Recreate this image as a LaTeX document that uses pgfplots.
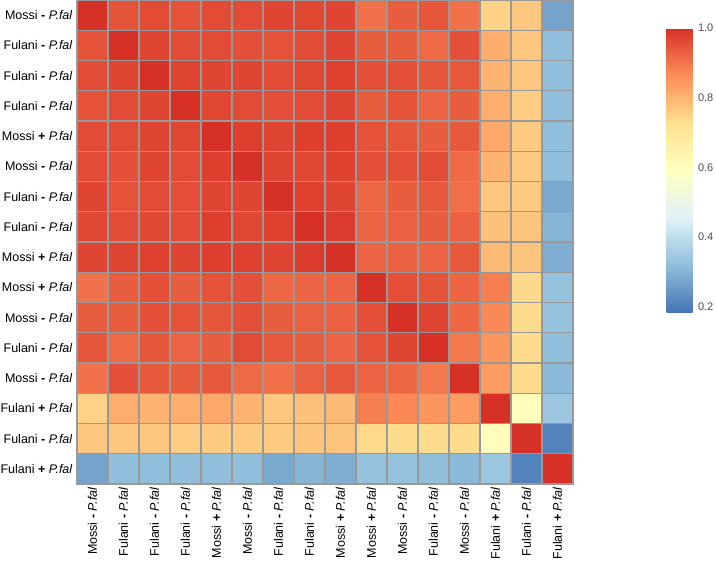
\documentclass[border=0pt]{standalone}
\usepackage{pgfplots}
\pgfplotsset{compat=1.18}
\usepackage{fontspec}
\setmainfont{Liberation Sans}
\usetikzlibrary{calc}
\pgfplotsset{colormap={rdylbu}{rgb255=(69,117,180) rgb255=(145,191,219) rgb255=(224,243,248) rgb255=(255,255,191) rgb255=(254,224,144) rgb255=(252,141,89) rgb255=(215,48,39)}}
\newcommand{\lm}{Mossi {\bfseries -} \textit{P.fal}}
\newcommand{\lp}{Mossi {\bfseries +} \textit{P.fal}}
\newcommand{\fm}{Fulani {\bfseries -} \textit{P.fal}}
\newcommand{\fp}{Fulani {\bfseries +} \textit{P.fal}}
\begin{document}
\begin{tikzpicture}
\useasboundingbox (0,0) rectangle (716bp,561bp);
\begin{axis}[
  at={(77bp,77bp)}, anchor=south west,
  width=496bp, height=484bp, scale only axis,
  xmin=-0.5, xmax=15.5, ymin=-0.5, ymax=15.5,
  y dir=reverse,
  axis on top,
  axis line style={draw=gray!80, line width=1.2bp},
  xtick={0,...,15}, ytick={0,...,15},
  xticklabels={\lm,\fm,\fm,\fm,\lp,\lm,\fm,\fm,\lp,\lp,\lm,\fm,\lm,\fp,\fm,\fp},
  yticklabels={\lm,\fm,\fm,\fm,\lp,\lm,\fm,\fm,\lp,\lp,\lm,\fm,\lm,\fp,\fm,\fp},
  major tick length=0pt, minor tick length=0pt,
  minor xtick={-0.5,0.5,...,15.5},
  minor ytick={-0.5,0.5,...,15.5},
  xminorgrids=true, yminorgrids=true,
  minor grid style={draw=gray!80, line width=1.2bp},
  ticklabel style={font=\fontsize{12.5bp}{14bp}\selectfont},
  xticklabel style={rotate=90, anchor=east, xshift=0bp},
  yticklabel style={anchor=east, xshift=-1bp},
  colormap name=rdylbu,
  point meta min=0.185, point meta max=1.0,
  colorbar,
  colorbar/width=26bp,
  colorbar style={
    at={($(parent axis.north east)+(85bp,-28bp)$)}, anchor=north west,
    width=26bp, height=284bp, scale only axis,
    axis line style={draw=none},
    major tick length=0pt,
    ytick={0.2,0.4,0.6,0.8,1.0},
    yticklabel style={font=\fontsize{11bp}{12bp}\selectfont, text=black!70, xshift=2bp,
      /pgf/number format/.cd, fixed, fixed zerofill, precision=1, assume math mode=true},
  },
]
\addplot[matrix plot*, mesh/cols=16, point meta=explicit] table[meta=c, row sep=\\] {
x y c\\
0 0 1.00\\ 1 0 0.95\\ 2 0 0.96\\ 3 0 0.95\\ 4 0 0.96\\ 5 0 0.96\\ 6 0 0.97\\ 7 0 0.965\\ 8 0 0.97\\ 9 0 0.905\\ 10 0 0.935\\ 11 0 0.945\\ 12 0 0.905\\ 13 0 0.75\\ 14 0 0.77\\ 15 0 0.27\\
0 1 0.95\\ 1 1 1.00\\ 2 1 0.97\\ 3 1 0.96\\ 4 1 0.96\\ 5 1 0.955\\ 6 1 0.95\\ 7 1 0.96\\ 8 1 0.97\\ 9 1 0.935\\ 10 1 0.935\\ 11 1 0.915\\ 12 1 0.955\\ 13 1 0.81\\ 14 1 0.77\\ 15 1 0.32\\
0 2 0.96\\ 1 2 0.97\\ 2 2 1.00\\ 3 2 0.97\\ 4 2 0.97\\ 5 2 0.97\\ 6 2 0.96\\ 7 2 0.965\\ 8 2 0.975\\ 9 2 0.955\\ 10 2 0.955\\ 11 2 0.945\\ 12 2 0.94\\ 13 2 0.80\\ 14 2 0.77\\ 15 2 0.32\\
0 3 0.95\\ 1 3 0.96\\ 2 3 0.97\\ 3 3 1.00\\ 4 3 0.965\\ 5 3 0.96\\ 6 3 0.955\\ 7 3 0.96\\ 8 3 0.97\\ 9 3 0.935\\ 10 3 0.95\\ 11 3 0.925\\ 12 3 0.935\\ 13 3 0.81\\ 14 3 0.76\\ 15 3 0.32\\
0 4 0.96\\ 1 4 0.96\\ 2 4 0.97\\ 3 4 0.965\\ 4 4 1.00\\ 5 4 0.98\\ 6 4 0.97\\ 7 4 0.98\\ 8 4 0.98\\ 9 4 0.95\\ 10 4 0.945\\ 11 4 0.935\\ 12 4 0.94\\ 13 4 0.82\\ 14 4 0.765\\ 15 4 0.32\\
0 5 0.96\\ 1 5 0.955\\ 2 5 0.97\\ 3 5 0.96\\ 4 5 0.98\\ 5 5 1.00\\ 6 5 0.97\\ 7 5 0.965\\ 8 5 0.975\\ 9 5 0.955\\ 10 5 0.955\\ 11 5 0.96\\ 12 5 0.915\\ 13 5 0.80\\ 14 5 0.765\\ 15 5 0.32\\
0 6 0.97\\ 1 6 0.95\\ 2 6 0.96\\ 3 6 0.955\\ 4 6 0.97\\ 5 6 0.97\\ 6 6 1.00\\ 7 6 0.975\\ 8 6 0.97\\ 9 6 0.92\\ 10 6 0.935\\ 11 6 0.94\\ 12 6 0.91\\ 13 6 0.77\\ 14 6 0.765\\ 15 6 0.28\\
0 7 0.965\\ 1 7 0.96\\ 2 7 0.965\\ 3 7 0.96\\ 4 7 0.98\\ 5 7 0.965\\ 6 7 0.975\\ 7 7 1.00\\ 8 7 0.985\\ 9 7 0.925\\ 10 7 0.93\\ 11 7 0.935\\ 12 7 0.93\\ 13 7 0.78\\ 14 7 0.775\\ 15 7 0.30\\
0 8 0.97\\ 1 8 0.97\\ 2 8 0.975\\ 3 8 0.97\\ 4 8 0.98\\ 5 8 0.975\\ 6 8 0.97\\ 7 8 0.985\\ 8 8 1.00\\ 9 8 0.925\\ 10 8 0.93\\ 11 8 0.925\\ 12 8 0.94\\ 13 8 0.79\\ 14 8 0.775\\ 15 8 0.29\\
0 9 0.905\\ 1 9 0.935\\ 2 9 0.955\\ 3 9 0.935\\ 4 9 0.95\\ 5 9 0.955\\ 6 9 0.92\\ 7 9 0.925\\ 8 9 0.925\\ 9 9 1.00\\ 10 9 0.955\\ 11 9 0.95\\ 12 9 0.925\\ 13 9 0.885\\ 14 9 0.74\\ 15 9 0.33\\
0 10 0.935\\ 1 10 0.935\\ 2 10 0.955\\ 3 10 0.95\\ 4 10 0.945\\ 5 10 0.955\\ 6 10 0.935\\ 7 10 0.93\\ 8 10 0.93\\ 9 10 0.955\\ 10 10 1.00\\ 11 10 0.97\\ 12 10 0.92\\ 13 10 0.87\\ 14 10 0.735\\ 15 10 0.33\\
0 11 0.945\\ 1 11 0.915\\ 2 11 0.945\\ 3 11 0.925\\ 4 11 0.935\\ 5 11 0.96\\ 6 11 0.94\\ 7 11 0.935\\ 8 11 0.925\\ 9 11 0.95\\ 10 11 0.97\\ 11 11 1.00\\ 12 11 0.895\\ 13 11 0.85\\ 14 11 0.735\\ 15 11 0.32\\
0 12 0.905\\ 1 12 0.955\\ 2 12 0.94\\ 3 12 0.935\\ 4 12 0.94\\ 5 12 0.915\\ 6 12 0.91\\ 7 12 0.93\\ 8 12 0.94\\ 9 12 0.925\\ 10 12 0.92\\ 11 12 0.895\\ 12 12 1.00\\ 13 12 0.84\\ 14 12 0.735\\ 15 12 0.31\\
0 13 0.75\\ 1 13 0.81\\ 2 13 0.80\\ 3 13 0.81\\ 4 13 0.82\\ 5 13 0.80\\ 6 13 0.77\\ 7 13 0.78\\ 8 13 0.79\\ 9 13 0.885\\ 10 13 0.87\\ 11 13 0.85\\ 12 13 0.84\\ 13 13 1.00\\ 14 13 0.60\\ 15 13 0.34\\
0 14 0.77\\ 1 14 0.77\\ 2 14 0.77\\ 3 14 0.76\\ 4 14 0.765\\ 5 14 0.765\\ 6 14 0.765\\ 7 14 0.775\\ 8 14 0.775\\ 9 14 0.74\\ 10 14 0.735\\ 11 14 0.735\\ 12 14 0.735\\ 13 14 0.60\\ 14 14 1.00\\ 15 14 0.21\\
0 15 0.27\\ 1 15 0.32\\ 2 15 0.32\\ 3 15 0.32\\ 4 15 0.32\\ 5 15 0.32\\ 6 15 0.28\\ 7 15 0.30\\ 8 15 0.29\\ 9 15 0.33\\ 10 15 0.33\\ 11 15 0.32\\ 12 15 0.31\\ 13 15 0.34\\ 14 15 0.21\\ 15 15 1.00\\
};
\end{axis}
\end{tikzpicture}
\end{document}
